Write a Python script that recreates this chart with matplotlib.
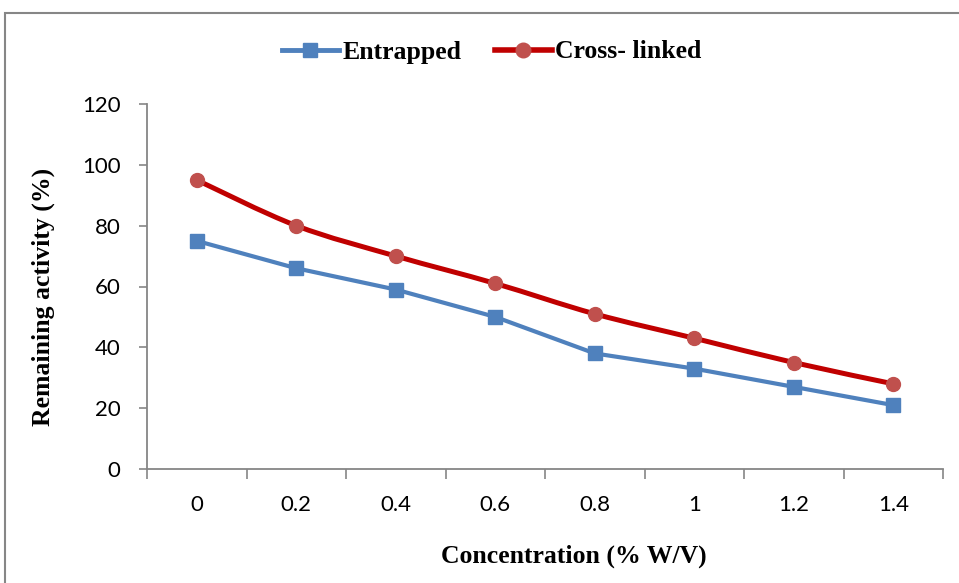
import numpy as np
import matplotlib.pyplot as plt
from matplotlib.path import Path
from matplotlib.patches import PathPatch, Rectangle
from matplotlib.lines import Line2D

categories = ["0", "0.2", "0.4", "0.6", "0.8", "1", "1.2", "1.4"]
entrapped = [75, 66, 59, 50, 38, 33, 27, 21]
cross_linked = [95, 80, 70, 61, 51, 43, 35, 28]

blue = "#4F81BD"
red_line = "#C00000"
red_marker = "#C0504D"
axis_grey = "#868686"
serif = "Liberation Serif"


def smooth_path(x, y):
    # Bezier curve through every point, Excel-style smoothing
    x = np.asarray(x, float)
    y = np.asarray(y, float)
    verts = [(x[0], y[0])]
    codes = [Path.MOVETO]
    n = len(x)
    for i in range(n - 1):
        p0 = (x[max(i - 1, 0)], y[max(i - 1, 0)])
        p1 = (x[i], y[i])
        p2 = (x[i + 1], y[i + 1])
        p3 = (x[min(i + 2, n - 1)], y[min(i + 2, n - 1)])
        c1 = (p1[0] + (p2[0] - p0[0]) / 6, p1[1] + (p2[1] - p0[1]) / 6)
        c2 = (p2[0] - (p3[0] - p1[0]) / 6, p2[1] - (p3[1] - p1[1]) / 6)
        verts += [c1, c2, p2]
        codes += [Path.CURVE4] * 3
    return Path(verts, codes)


fig = plt.figure(figsize=(9.59, 5.83), dpi=100)
ax = fig.add_axes([147 / 959, 114 / 583, 796 / 959, 365 / 583])

x = np.arange(len(categories))

ax.plot(x, entrapped, color=blue, lw=3, marker="s", ms=10.5,
        mfc=blue, mec=blue, zorder=3)

ax.add_patch(PathPatch(smooth_path(x, cross_linked), fill=False,
                       edgecolor=red_line, lw=3.6, zorder=3,
                       capstyle="round", joinstyle="round"))
ax.plot(x, cross_linked, ls="none", marker="o", ms=10,
        mfc=red_marker, mec=red_marker, zorder=4)

ax.set_xlim(-0.5, len(categories) - 0.5)
ax.set_ylim(0, 120)
ax.set_yticks(range(0, 121, 20))

# labels sit in the middle of each category, tick marks on the boundaries
ax.set_xticks(np.arange(-0.5, len(categories)), labels=[])
ax.set_xticks(x, labels=categories, minor=True)
ax.tick_params(axis="x", which="major", length=7, color=axis_grey, width=1.2)
ax.tick_params(axis="x", which="minor", length=0, pad=19, labelsize=16)
ax.tick_params(axis="y", length=6, color=axis_grey, width=1.2, pad=13,
               labelsize=16)
for lbl in ax.get_xticklabels(minor=True) + ax.get_yticklabels():
    lbl.set_family("Lato")

for side in ("top", "right"):
    ax.spines[side].set_visible(False)
for side in ("left", "bottom"):
    ax.spines[side].set_color(axis_grey)
    ax.spines[side].set_linewidth(1.3)

fig.text(43 / 959, 1 - 297 / 583, "Remaining activity (%)", rotation=90,
         ha="center", va="center", family=serif, weight="bold", fontsize=18.5)
fig.text(574 / 959, 1 - 556 / 583, "Concentration (% W/V)",
         ha="center", va="center", family=serif, weight="bold", fontsize=18.5)

handles = [
    Line2D([], [], color=blue, lw=3.5, marker="s", ms=10.5, mfc=blue, mec=blue),
    Line2D([], [], color=red_line, lw=4, marker="o", ms=10.5,
           mfc=red_marker, mec=red_marker),
]
fig.legend(handles, ["Entrapped", "Cross- linked"], loc="center",
           bbox_to_anchor=(492 / 959, 1 - 52 / 583), ncol=2, frameon=False,
           prop={"family": serif, "weight": "bold", "size": 18.5},
           handlelength=2.2, handletextpad=0.15, columnspacing=1.3)

# outer chart frame
fig.add_artist(Rectangle((5 / 959, -0.05), 1.1, 1.05 - 13 / 583,
                         transform=fig.transFigure, fill=False,
                         edgecolor=axis_grey, lw=1.5))

fig.savefig("out.png", dpi=100)
